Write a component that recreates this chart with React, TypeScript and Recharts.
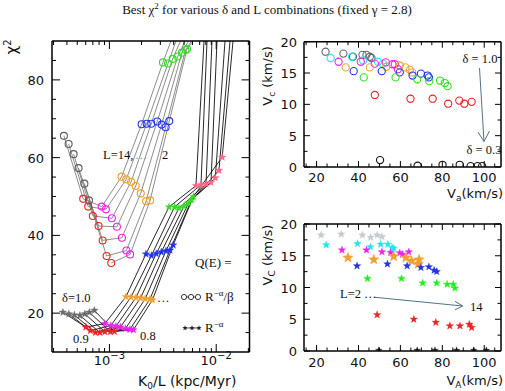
import React from "react";
import { ComposedChart, Line, XAxis, YAxis, ScatterChart, Scatter } from "recharts";

const SANS = "'DejaVu Sans', sans-serif";
const SERIF = "'Liberation Serif', 'Times New Roman', serif";

// ---------- left panel: best chi2 vs K0/L, one polyline per L ----------
const L_VALUES = [14, 12, 10, 8, 6, 4, 2];

// Q(E) = R^-a / beta  (open circles), one value per L
const C_GREY_K = [3.75e-4, 4.15e-4, 4.62e-4, 5.14e-4, 5.83e-4, 6.43e-4, null];
const C_GREY_CHI = [65.6, 63.5, 60.9, 57.3, 53.3, 49.0, null];
const C_RED_K = [5.68e-4, 6.33e-4, 7.0e-4, 7.92e-4, 8.64e-4, 9.41e-4, 1.04e-3];
const C_RED_CHI = [49.4, 47.4, 45.0, 42.4, 38.7, 34.7, 32.9];
const C_MAG_K = [8.47e-4, 9.27e-4, 1.055e-3, 1.176e-3, 1.31e-3, 1.443e-3, 1.563e-3];
const C_MAG_CHI = [47.4, 46.7, 44.4, 42.2, 39.4, 36.1, 35.1];
const C_ORA_K = [1.301e-3, 1.437e-3, 1.597e-3, 1.764e-3, 1.965e-3, 2.208e-3, 2.406e-3];
const C_ORA_CHI = [55.1, 54.4, 53.8, 52.7, 50.8, 48.8, 49.0];
const C_BLU_K = [2.003e-3, 2.232e-3, 2.465e-3, 2.805e-3, 3.085e-3, 3.363e-3, 3.634e-3];
const C_BLU_CHI = [68.6, 68.7, 68.7, 69.3, 68.5, 67.8, 69.4];
const C_GRN_K = [3.172e-3, 3.534e-3, 3.911e-3, 4.367e-3, 4.779e-3, 5.157e-3, 5.326e-3];
const C_GRN_CHI = [84.5, 84.2, 85.4, 86.0, 87.0, 87.7, 87.9];
const C_TOP_K = [3.77e-3, 4.2e-3, 4.63e-3, 5.1e-3, 5.5e-3, 5.87e-3, 6.06e-3];

// Q(E) = R^-a  (stars)
const S_GREY_K = [3.67e-4, 4.17e-4, 4.7e-4, 5.29e-4, 5.89e-4, 6.49e-4, 7.23e-4];
const S_GREY_CHI = [20.2, 19.8, 19.5, 19.4, 19.8, 20.2, 20.7];
const S_RED_K = [6.02e-4, 6.64e-4, 7.39e-4, 8.15e-4, 9.07e-4, 1.022e-3, 1.114e-3];
const S_RED_CHI = [16.4, 15.5, 15.0, 15.0, 15.2, 15.2, 15.3];
const S_MAG_K = [9.07e-4, 1.033e-3, 1.151e-3, 1.268e-3, 1.413e-3, 1.556e-3, 1.679e-3];
const S_MAG_CHI = [17.3, 16.8, 16.6, 16.4, 16.0, 15.8, 15.7];
const S_ORA_K = [1.427e-3, 1.59e-3, 1.772e-3, 1.961e-3, 2.165e-3, 2.397e-3, 2.529e-3];
const S_ORA_CHI = [24.2, 24.1, 24.0, 23.9, 23.7, 23.6, 23.4];
const S_BLU_K = [2.198e-3, 2.475e-3, 2.746e-3, 3.059e-3, 3.385e-3, 3.69e-3, 3.954e-3];
const S_BLU_CHI = [35.2, 34.8, 35.3, 35.7, 36.0, 36.2, 37.5];
const S_GRN_K = [3.611e-3, 4.067e-3, 4.481e-3, 4.991e-3, 5.5e-3, 5.868e-3, 6.128e-3];
const S_GRN_CHI = [47.3, 47.3, 47.0, 47.5, 48.3, 49.1, 50.0];
const S_PNK_K = [6.467e-3, 7.2e-3, 8.027e-3, 8.94e-3, 9.81e-3, 1.062e-2, 1.138e-2];
const S_PNK_CHI = [52.8, 53.0, 53.2, 53.6, 54.8, 56.7, 60.1];
const S_TOP_K = [7.69e-3, 8.2e-3, 9.13e-3, 1.017e-2, 1.209e-2, 1.347e-2, 1.437e-2];

const CHI_TOP = 90;

const K_TICKS = [3e-4, 4e-4, 5e-4, 6e-4, 7e-4, 8e-4, 9e-4, 1e-3, 2e-3, 3e-3, 4e-3, 5e-3, 6e-3, 7e-3, 8e-3, 9e-3, 1e-2, 2e-2];
const K_MAJOR = [1e-3, 1e-2];
const K_EXP = ["−3", "−2"];
const CHI_TICKS = [15, 20, 25, 30, 35, 40, 45, 50, 55, 60, 65, 70, 75, 80, 85];
const CHI_MAJOR = [20, 40, 60, 80];

// ---------- right panels: Vc vs Va per delta ----------
const DELTA = [1.0, 0.9, 0.8, 0.7, 0.6, 0.5, 0.4, 0.3];

const VA_GREY = [24.3, 32.8, 37.4, 41.9, 43.8, 45.4, 46.2];
const VC_GREY = [18.4, 18.1, 17.6, 17.9, 17.9, 17.6, 17.4];
const VA_CYAN = [26.7, 36.9, 42.2, 49.3, 51.7];
const VC_CYAN = [17.4, 17.6, 17.0, 16.8, 16.5];
const VA_MAG = [30.5, 41.1, 47.8, 53.0, 56.2, 57.3, 58.8];
const VC_MAG = [16.8, 16.8, 16.5, 16.7, 16.4, 16.4, 15.6];
const VA_ORA = [33.9, 45.4, 53.3, 59.7, 62.4, 64.5, 65.6];
const VC_ORA = [15.9, 15.9, 16.0, 16.2, 15.9, 15.5, 15.1];
const VA_BLU = [37.7, 51.1, 59.7, 65.8, 69.8, 73.0, 73.6];
const VC_BLU = [15.3, 15.3, 15.1, 14.6, 14.9, 14.6, 14.3];
const VA_GRN = [42.5, 57.7, 68.0, 73.8, 78.9, 81.2, 82.5];
const VC_GRN = [14.3, 14.3, 14.0, 13.7, 13.8, 13.4, 12.9];
const VA_RED = [47.8, 64.8, 75.4, 82.8, 88.1, 90.5, 94.0];
const VC_RED = [11.5, 10.9, 10.9, 10.1, 10.6, 10.1, 10.4];
const VA_BLK = [50.3, 68.2, 80.1, 88.3, 93.5, 96.8, 99.0];
const VC_BLK = [1.1, 0.2, 0.35, 0.35, 0.15, 0.15, 0.15];

const SA_GREY = [22.2, 31.8, 41.9, 45.8, 48.9, 51.2];
const SC_GREY = [18.25, 18.4, 18.25, 17.9, 18.25, 18.0];
const SA_CYAN = [24.6, 39.5, 45.7, 50.6, 54.0, 56.0, 56.8];
const SC_CYAN = [16.7, 16.9, 16.4, 16.8, 16.8, 16.3, 16.15];
const SA_MAG = [32.1, 43.8, 51.2, 55.3, 59.7, 61.0, 64.0];
const SC_MAG = [15.9, 15.9, 15.6, 15.5, 15.45, 15.2, 15.6];
const SA_ORA = [35.0, 47.3, 56.8, 62.6, 65.3, 68.9, 68.5];
const SC_ORA = [14.7, 14.4, 14.9, 14.7, 14.2, 14.4, 13.7];
const SA_BLU = [39.3, 53.8, 63.2, 69.8, 73.6, 76.1, 77.3];
const SC_BLU = [13.4, 13.7, 13.4, 13.15, 13.25, 12.7, 12.5];
const SA_GRN = [44.3, 60.5, 70.6, 77.3, 82.3, 85.2, 86.0];
const SC_GRN = [11.4, 11.4, 10.7, 10.7, 10.5, 10.5, 9.9];
const SA_RED = [48.9, 66.4, 76.9, 83.6, 88.4, 92.9, 94.0];
const SC_RED = [5.7, 5.0, 4.5, 3.95, 3.95, 4.2, 3.7];
const SA_BLK = [49.7, 68.0, 76.5, 86.8, 95.0, 101.0];
const SC_BLK = [0.1, 0.1, 0.1, 0.1, 0.1, 0.1];

const V_TICKS = [15, 20, 25, 30, 35, 40, 45, 50, 55, 60, 65, 70, 75, 80, 85, 90, 95, 100, 105];
const V_MAJOR = [20, 40, 60, 80, 100];
const VC_TICKS = [0, 2.5, 5, 7.5, 10, 12.5, 15, 17.5, 20];
const VC_MAJOR = [0, 5, 10, 15, 20];

// colours
const GREY = "#5c5c5c";
const RED = "#ee2222";
const MAG = "#ee22ee";
const ORA = "#eea030";
const BLU = "#2233ee";
const GRN = "#33dd22";
const PNK = "#ff6685";
const CYAN = "#22e6ee";

const CIRCLE_GROUPS = [
  { k: C_GREY_K, chi: C_GREY_CHI, c: GREY },
  { k: C_RED_K, chi: C_RED_CHI, c: RED },
  { k: C_MAG_K, chi: C_MAG_CHI, c: MAG },
  { k: C_ORA_K, chi: C_ORA_CHI, c: ORA },
  { k: C_BLU_K, chi: C_BLU_CHI, c: BLU },
  { k: C_GRN_K, chi: C_GRN_CHI, c: GRN },
];
const STAR_GROUPS = [
  { k: S_GREY_K, chi: S_GREY_CHI, c: "#6a6a6a" },
  { k: S_RED_K, chi: S_RED_CHI, c: RED },
  { k: S_MAG_K, chi: S_MAG_CHI, c: MAG },
  { k: S_ORA_K, chi: S_ORA_CHI, c: ORA },
  { k: S_BLU_K, chi: S_BLU_CHI, c: BLU },
  { k: S_GRN_K, chi: S_GRN_CHI, c: GRN },
  { k: S_PNK_K, chi: S_PNK_CHI, c: PNK },
];

const buildLines = (groups: any[], topK: number[]) =>
  L_VALUES.map((L, i) => {
    const pts: any[] = [];
    groups.forEach((g) => {
      if (g.k[i] != null) pts.push({ x: g.k[i], y: g.chi[i], c: g.c });
    });
    pts.push({ x: topK[i], y: CHI_TOP });
    return { L, pts };
  });

const circleLines = buildLines(CIRCLE_GROUPS, C_TOP_K);
const starLines = buildLines(STAR_GROUPS, S_TOP_K);

const pairs = (a: number[], c: number[]) => a.map((v, i) => ({ a: v, c: c[i] }));

const TOP_SERIES = [
  { d: pairs(VA_GREY, VC_GREY), c: "#666666" },
  { d: pairs(VA_CYAN, VC_CYAN), c: CYAN },
  { d: pairs(VA_MAG, VC_MAG), c: MAG },
  { d: pairs(VA_ORA, VC_ORA), c: ORA },
  { d: pairs(VA_BLU, VC_BLU), c: BLU },
  { d: pairs(VA_GRN, VC_GRN), c: GRN },
  { d: pairs(VA_RED, VC_RED), c: RED },
  { d: pairs(VA_BLK, VC_BLK), c: "#111111" },
];
const BOT_SERIES = [
  { d: pairs(SA_GREY, SC_GREY), c: "#c2cad2", r: 4 },
  { d: pairs(SA_CYAN, SC_CYAN), c: CYAN, r: 4 },
  { d: pairs(SA_MAG, SC_MAG), c: MAG, r: 4 },
  { d: pairs(SA_ORA, SC_ORA), c: "#f0a030", r: 5.6 },
  { d: pairs(SA_BLU, SC_BLU), c: "#2233dd", r: 4 },
  { d: pairs(SA_GRN, SC_GRN), c: "#22ee22", r: 4 },
  { d: pairs(SA_RED, SC_RED), c: RED, r: 4 },
  { d: pairs(SA_BLK, SC_BLK), c: "#111111", r: 3.5 },
];

const starPath = (cx: number, cy: number, r: number) => {
  let d = "";
  for (let i = 0; i < 10; i++) {
    const a = -Math.PI / 2 + (i * Math.PI) / 5;
    const rr = i % 2 === 0 ? r : r * 0.42;
    d += (i === 0 ? "M" : "L") + (cx + rr * Math.cos(a)).toFixed(2) + "," + (cy + rr * Math.sin(a)).toFixed(2);
  }
  return d + "Z";
};

// ---------- layout of the three panels (axis bands sized so the plot box lands where the reference has it) ----------
const LP = { w: 260, h: 391, top: 41, right: 10.5, bottom: 39, left: 52 };
const RT = { w: 245, h: 200, top: 41.7, right: 4, bottom: 33, left: 44 };
const RB = { w: 245, h: 191, top: 24, right: 4, bottom: 40, left: 44 };

const tickFont = { fontFamily: SANS, fontSize: 13, fill: "#111" };

function makeTicks(
  box: { w: number; h: number; top: number; right: number; bottom: number; left: number },
  majors: number[],
  side: "left" | "right" | "top" | "bottom",
  label?: (v: number, x: number, y: number) => React.ReactNode,
  lens = [7, 3.5],
) {
  const b = box.h - box.bottom;
  const r = box.w - box.right;
  return (props: any) => {
    const v = props.payload.value;
    const major = majors.includes(v);
    const len = major ? lens[0] : lens[1];
    const x = props.payload.coordinate ?? props.x;
    const y = props.payload.coordinate ?? props.y;
    let ln;
    if (side === "bottom") ln = <line x1={x} x2={x} y1={b} y2={b - len} stroke="#000" />;
    else if (side === "top") ln = <line x1={x} x2={x} y1={box.top} y2={box.top + len} stroke="#000" />;
    else if (side === "left") ln = <line x1={box.left} x2={box.left + len} y1={y} y2={y} stroke="#000" />;
    else ln = <line x1={r} x2={r - len} y1={y} y2={y} stroke="#000" />;
    return (
      <g>
        {ln}
        {label && major ? label(v, x, y) : null}
      </g>
    );
  };
}

const circleDot = (p: any) => {
  const c = p.payload && p.payload.c;
  if (!c) return <g key={"e" + p.index} />;
  return <circle key={"d" + p.index} cx={p.cx} cy={p.cy} r={3.5} fill="none" stroke={c} strokeWidth={1.1} />;
};
const starDot = (p: any) => {
  const c = p.payload && p.payload.c;
  if (!c) return <g key={"e" + p.index} />;
  return <path key={"d" + p.index} d={starPath(p.cx, p.cy, 4)} fill={c} stroke={c} strokeWidth={0.3} />;
};

const frame = { stroke: "#000", strokeWidth: 1.5 };

function LeftPanel() {
  const kLabel = (v: number, x: number) => (
    <text x={x} y={365} textAnchor="middle" {...tickFont}>
      10
      <tspan dy={-6} fontSize={10}>
        {K_EXP[K_MAJOR.indexOf(v)]}
      </tspan>
    </text>
  );
  const chiLabel = (v: number, _x: number, y: number) => (
    <text x={44} y={y + 5} textAnchor="end" {...tickFont}>
      {v}
    </text>
  );
  return (
    <ComposedChart width={LP.w} height={LP.h} margin={{ top: 0, right: 0, bottom: 0, left: 0 }}>
      <XAxis
        dataKey="x"
        type="number"
        scale="log"
        domain={[2.9e-4, 0.0205]}
        allowDataOverflow
        ticks={K_TICKS}
        interval={0}
        height={LP.bottom}
        tickLine={false}
        axisLine={frame}
        tick={makeTicks(LP, K_MAJOR, "bottom", kLabel, [8, 4])}
      />
      <XAxis
        xAxisId="t"
        orientation="top"
        dataKey="x"
        type="number"
        scale="log"
        domain={[2.9e-4, 0.0205]}
        allowDataOverflow
        ticks={K_TICKS}
        interval={0}
        height={LP.top}
        tickLine={false}
        axisLine={frame}
        tick={makeTicks(LP, K_MAJOR, "top", undefined, [8, 4])}
      />
      <YAxis
        dataKey="y"
        type="number"
        domain={[10, 90]}
        allowDataOverflow
        ticks={CHI_TICKS}
        interval={0}
        width={LP.left}
        tickLine={false}
        axisLine={frame}
        tick={makeTicks(LP, CHI_MAJOR, "left", chiLabel, [8, 4])}
      />
      <YAxis
        yAxisId="r"
        orientation="right"
        dataKey="y"
        type="number"
        domain={[10, 90]}
        allowDataOverflow
        ticks={CHI_TICKS}
        interval={0}
        width={LP.right}
        tickLine={false}
        axisLine={frame}
        tick={makeTicks(LP, CHI_MAJOR, "right", undefined, [8, 4])}
      />
      {/* invisible series so the mirror axes have something bound to them */}
      <Line xAxisId="t" yAxisId="r" data={circleLines[0].pts} dataKey="y" stroke="none" dot={false} activeDot={false} isAnimationActive={false} />
      {circleLines.map((s) => (
        <Line
          key={"c" + s.L}
          data={s.pts}
          dataKey="y"
          type="linear"
          stroke="#707070"
          strokeWidth={0.8}
          dot={circleDot}
          activeDot={false}
          isAnimationActive={false}
        />
      ))}
      {starLines.map((s) => (
        <Line
          key={"s" + s.L}
          data={s.pts}
          dataKey="y"
          type="linear"
          stroke="#111"
          strokeWidth={0.9}
          dot={starDot}
          activeDot={false}
          isAnimationActive={false}
        />
      ))}
    </ComposedChart>
  );
}

function RightPanel({ box, series, star, labelY }: any) {
  const vLabel = (v: number, x: number) => (
    <text x={x} y={labelY} textAnchor="middle" {...tickFont}>
      {v}
    </text>
  );
  const cLabel = (v: number, _x: number, y: number) => (
    <text x={box.left - 7} y={y + 5} textAnchor="end" {...tickFont}>
      {v}
    </text>
  );
  return (
    <ScatterChart width={box.w} height={box.h} margin={{ top: 0, right: 0, bottom: 0, left: 0 }}>
      <XAxis dataKey="a" type="number" domain={[14, 108]} allowDataOverflow ticks={V_TICKS} interval={0} height={box.bottom} tickLine={false} axisLine={frame} tick={makeTicks(box, V_MAJOR, "bottom", vLabel, [6, 3.5])} />
      <XAxis xAxisId="t" orientation="top" dataKey="a" type="number" domain={[14, 108]} allowDataOverflow ticks={V_TICKS} interval={0} height={box.top} tickLine={false} axisLine={frame} tick={makeTicks(box, V_MAJOR, "top", undefined, [6, 3.5])} />
      <YAxis dataKey="c" type="number" domain={[0, 20]} allowDataOverflow ticks={VC_TICKS} interval={0} width={box.left} tickLine={false} axisLine={frame} tick={makeTicks(box, VC_MAJOR, "left", cLabel, [6, 3.5])} />
      <YAxis yAxisId="r" orientation="right" dataKey="c" type="number" domain={[0, 20]} allowDataOverflow ticks={VC_TICKS} interval={0} width={box.right} tickLine={false} axisLine={frame} tick={makeTicks(box, VC_MAJOR, "right", undefined, [6, 3.5])} />
      <Scatter xAxisId="t" yAxisId="r" data={series[0].d} isAnimationActive={false} shape={() => <g />} />
      {series.map((s: any, i: number) => (
        <Scatter
          key={i}
          name={"δ=" + DELTA[i]}
          data={s.d}
          isAnimationActive={false}
          shape={(p: any) =>
            star ? (
              <path d={starPath(p.cx, p.cy, s.r)} fill={s.c} stroke={s.c} strokeWidth={0.3} />
            ) : (
              <circle cx={p.cx} cy={p.cy} r={3.6} fill="none" stroke={s.c} strokeWidth={1.1} />
            )
          }
        />
      ))}
    </ScatterChart>
  );
}

function Overlay() {
  const serif = { fontFamily: SERIF, fill: "#111" };
  const sans = { fontFamily: SANS, fill: "#111" };
  const arrow = "#4f7484";
  return (
    <svg width={505} height={391} style={{ position: "absolute", left: 0, top: 0, pointerEvents: "none" }}>
      <text x={267} y={14} textAnchor="middle" fontSize={13} {...serif}>
        Best χ<tspan dy={-5} fontSize={9}>2</tspan>
        <tspan dy={5}> for various δ and L combinations (fixed γ = 2.8)</tspan>
      </text>
      <text transform="translate(17,47) rotate(-90)" textAnchor="middle" fontSize={15} {...sans}>
        χ<tspan dy={-6} fontSize={10}>2</tspan>
      </text>
      <text x={138} y={386} fontSize={14} {...sans}>
        K<tspan dy={3} fontSize={9}>0</tspan>
        <tspan dy={-3}>/L (kpc/Myr)</tspan>
      </text>

      <text x={103} y={159} fontSize={12.5} {...serif}>L=14,</text>
      <text x={135} y={159} fontSize={12.5} fill="#999" fontFamily={SERIF}>…</text>
      <text x={162} y={159} fontSize={12.5} {...serif}>2</text>
      <text x={195} y={267} fontSize={13} {...serif}>Q(E) =</text>
      <line x1={183} x2={199} y1={297} y2={297} stroke="#222" strokeWidth={0.8} />
      {[184, 191, 198].map((cx) => (
        <circle key={cx} cx={cx} cy={297} r={2.6} fill="#fff" stroke="#222" strokeWidth={0.9} />
      ))}
      <text x={205} y={301} fontSize={13} {...serif}>
        R<tspan dy={-5} fontSize={9}>−α</tspan>
        <tspan dy={5}>/β</tspan>
      </text>
      <line x1={184} x2={200} y1={328} y2={328} stroke="#222" strokeWidth={0.8} />
      {[185, 192, 199].map((cx) => (
        <path key={cx} d={starPath(cx, 328, 2.8)} fill="#222" />
      ))}
      <text x={205} y={332} fontSize={13} {...serif}>
        R<tspan dy={-5} fontSize={9}>−α</tspan>
      </text>
      <text x={157} y={302} fontSize={12.5} {...serif}>…</text>
      <text x={62} y={302} fontSize={12.5} {...serif}>δ=1.0</text>
      <text x={73} y={343} fontSize={12.5} {...serif}>0.9</text>
      <text x={140} y={340} fontSize={12.5} {...serif}>0.8</text>

      <text transform="translate(272,76) rotate(-90)" textAnchor="middle" fontSize={13} {...sans}>
        V<tspan dy={3} fontSize={9}>c</tspan>
        <tspan dy={-3}> (km/s)</tspan>
      </text>
      <text x={503} y={198} textAnchor="end" fontSize={13} {...sans}>
        V<tspan dy={3} fontSize={9}>a</tspan>
        <tspan dy={-3}>(km/s)</tspan>
      </text>
      <text x={480} y={63} textAnchor="middle" fontSize={12.5} {...serif}>δ = 1.0</text>
      <text x={484} y={154} textAnchor="middle" fontSize={12.5} {...serif}>δ = 0.3</text>
      <line x1={479.5} y1={68} x2={484} y2={141.5} stroke={arrow} strokeWidth={1} />
      <polyline points="478,132 484,141.5 489.5,131" fill="none" stroke={arrow} strokeWidth={1} />

      <text transform="translate(272,255) rotate(-90)" textAnchor="middle" fontSize={13} {...sans}>
        V<tspan dy={3} fontSize={9}>C</tspan>
        <tspan dy={-3}> (km/s)</tspan>
      </text>
      <text x={503} y={385} textAnchor="end" fontSize={13} {...sans}>
        V<tspan dy={3} fontSize={9}>A</tspan>
        <tspan dy={-3}>(km/s)</tspan>
      </text>
      <text x={340} y={298} fontSize={12.5} {...serif}>L=2 …</text>
      <text x={470} y={311} fontSize={12.5} {...serif}>14</text>
      <line x1={375} y1={297.3} x2={462.7} y2={306} stroke={arrow} strokeWidth={1} />
      <polyline points="455,301.3 462.7,306 455,309.8" fill="none" stroke={arrow} strokeWidth={1} />
    </svg>
  );
}

export default function App() {
  return (
    <div style={{ position: "absolute", left: 0, top: 0, width: 505, height: 391, background: "#fff", overflow: "hidden" }}>
      <div style={{ position: "absolute", left: 0, top: 0 }}>
        <LeftPanel />
      </div>
      <div style={{ position: "absolute", left: 260, top: 0 }}>
        <RightPanel box={RT} series={TOP_SERIES} star={false} labelY={182} />
      </div>
      <div style={{ position: "absolute", left: 260, top: 200 }}>
        <RightPanel box={RB} series={BOT_SERIES} star={true} labelY={167} />
      </div>
      <Overlay />
    </div>
  );
}
